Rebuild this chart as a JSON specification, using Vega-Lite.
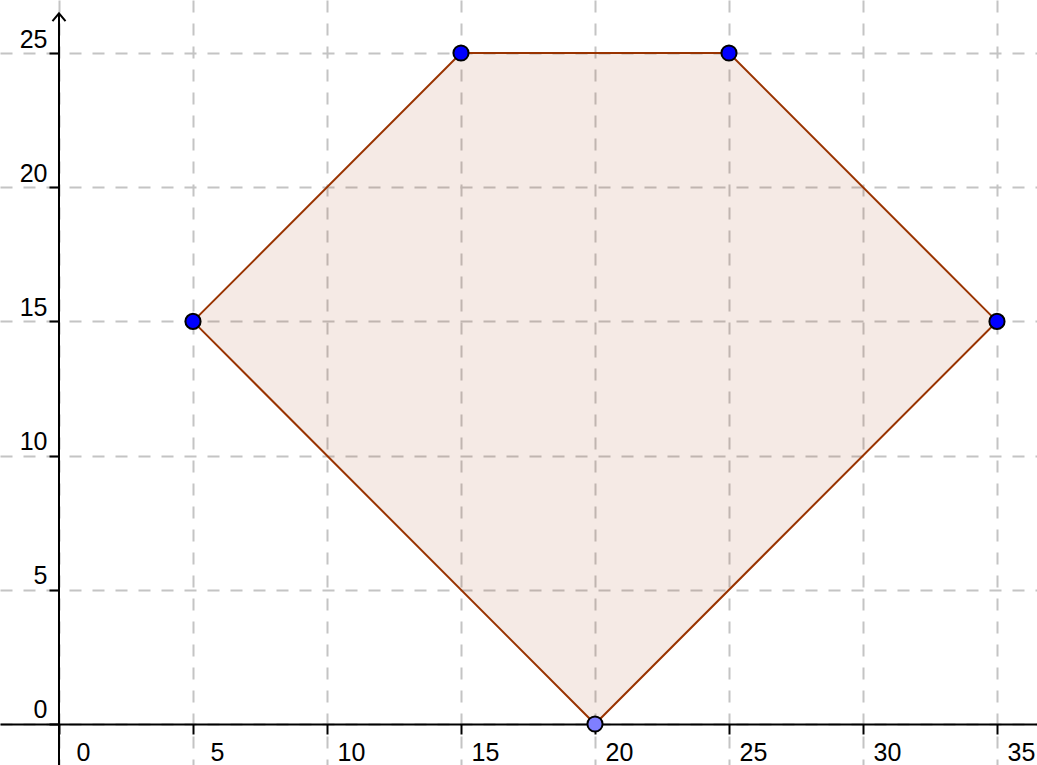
{
  "$schema": "https://vega.github.io/schema/vega-lite/v6.json",
  "width": 1037,
  "height": 765,
  "autosize": {"type": "none"},
  "padding": 0,
  "background": "white",
  "config": {
    "view": {"stroke": null},
    "font": "Liberation Sans"
  },
  "datasets": {
    "outline": [
      {"x": 5, "y": 15, "o": 1},
      {"x": 15, "y": 25, "o": 2},
      {"x": 25, "y": 25, "o": 3},
      {"x": 35, "y": 15, "o": 4},
      {"x": 20, "y": 0, "o": 5},
      {"x": 5, "y": 15, "o": 6}
    ],
    "region": [
      {"x": 5, "top": 15, "bottom": 15},
      {"x": 15, "top": 25, "bottom": 5},
      {"x": 20, "top": 25, "bottom": 0},
      {"x": 25, "top": 25, "bottom": 5},
      {"x": 35, "top": 15, "bottom": 15}
    ],
    "points": [
      {"x": 5, "y": 15, "kind": "free"},
      {"x": 15, "y": 25, "kind": "free"},
      {"x": 25, "y": 25, "kind": "free"},
      {"x": 35, "y": 15, "kind": "free"},
      {"x": 20, "y": 0, "kind": "onaxis"}
    ],
    "one": [{"axis": "y"}]
  },
  "layer": [
    {
      "data": {"name": "region"},
      "mark": {"type": "area", "fill": "#993300", "fillOpacity": 0.1, "stroke": null},
      "encoding": {
        "x": {
          "field": "x", "type": "quantitative",
          "scale": {"domain": [-2.2015, 36.493], "nice": false, "zero": false},
          "axis": {
            "orient": "bottom", "offset": -41, "title": null,
            "values": [0, 5, 10, 15, 20, 25, 30, 35],
            "grid": true, "gridColor": "#c4c4c4", "gridDash": [12, 11], "gridWidth": 2,
            "domain": true, "domainColor": "#000000", "domainWidth": 2,
            "ticks": true, "tickColor": "#000000", "tickSize": 10, "tickWidth": 2,
            "labelFontSize": 25, "labelColor": "#000000", "labelAlign": "center",
            "labelOffset": 24, "labelBaseline": "alphabetic", "labelPadding": 26,
            "labelFont": "Liberation Sans", "labelOverlap": false, "labelFlush": false
          }
        },
        "y": {
          "field": "top", "type": "quantitative",
          "scale": {"domain": [-1.5276, 26.975], "nice": false, "zero": false},
          "axis": {
            "orient": "left", "offset": -59, "title": null,
            "values": [0, 5, 10, 15, 20, 25],
            "grid": true, "gridColor": "#c4c4c4", "gridDash": [12, 11], "gridWidth": 2,
            "domain": false,
            "ticks": true, "tickColor": "#000000", "tickSize": 10, "tickWidth": 2,
            "labelFontSize": 25, "labelColor": "#000000", "labelAlign": "right",
            "labelOffset": -6, "labelBaseline": "alphabetic", "labelPadding": 2,
            "labelFont": "Liberation Sans", "labelOverlap": false, "labelFlush": false
          }
        },
        "y2": {"field": "bottom"}
      }
    },
    {
      "data": {"name": "one"},
      "mark": {"type": "rule", "color": "#000000", "strokeWidth": 2},
      "encoding": {
        "x": {"datum": 0, "type": "quantitative"},
        "y": {"datum": -1.6, "type": "quantitative"},
        "y2": {"datum": 26.48}
      }
    },
    {
      "data": {"name": "one"},
      "mark": {
        "type": "point",
        "shape": "M-1,1.2L0,0L1,1.2",
        "filled": false,
        "stroke": "#000000",
        "strokeWidth": 2,
        "size": 170,
        "opacity": 1
      },
      "encoding": {
        "x": {"datum": 0, "type": "quantitative"},
        "y": {"datum": 26.48, "type": "quantitative"}
      }
    },
    {
      "data": {"name": "outline"},
      "mark": {"type": "line", "color": "#993300", "strokeWidth": 2},
      "encoding": {
        "x": {"field": "x", "type": "quantitative"},
        "y": {"field": "y", "type": "quantitative"},
        "order": {"field": "o", "type": "quantitative"}
      }
    },
    {
      "data": {"name": "points"},
      "mark": {"type": "point", "filled": true, "size": 230, "stroke": "#000000", "strokeWidth": 2, "opacity": 1},
      "encoding": {
        "x": {"field": "x", "type": "quantitative"},
        "y": {"field": "y", "type": "quantitative"},
        "fill": {
          "field": "kind", "type": "nominal",
          "scale": {"domain": ["free", "onaxis"], "range": ["#0000ff", "#7f7fff"]},
          "legend": null
        }
      }
    }
  ]
}
